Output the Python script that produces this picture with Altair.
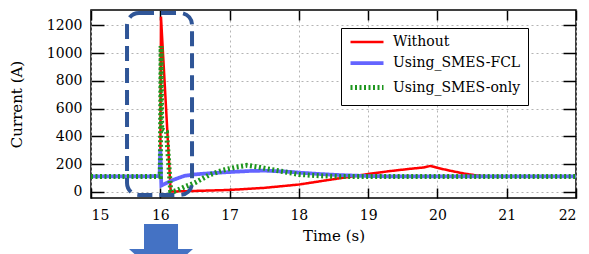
import altair as alt
import pandas as pd

series_names = ["Without", "Using_SMES-FCL", "Using_SMES-only"]
series_colors = ["#ff0000", "#6464ff", "#1e961e"]

t_without = [15.0, 16.0, 16.01, 16.15, 16.2, 16.5, 17.0, 17.5, 18.0, 18.3, 18.6, 18.8,
             19.0, 19.3, 19.6, 19.8, 19.9, 19.95, 20.0, 20.2, 20.4, 20.6, 20.8, 21.0, 22.0]
i_without = [108, 108, 1262, 2, 2, 6, 13, 28, 52, 75, 98, 112,
             128, 148, 165, 175, 186, 180, 172, 150, 130, 115, 110, 108, 108]

t_fcl = [15.0, 15.99, 16.0, 16.015, 16.1, 16.2, 16.35, 16.5, 16.7, 17.0, 17.3, 17.5,
         17.8, 18.0, 18.3, 18.6, 19.0, 19.5, 22.0]
i_fcl = [110, 112, 310, 45, 65, 88, 115, 125, 133, 142, 150, 152,
         146, 138, 128, 120, 113, 110, 110]

t_only = [15.0, 16.0, 16.012, 16.02, 16.09, 16.15, 16.2, 16.25, 16.35, 16.5, 16.7, 16.9,
          17.1, 17.25, 17.4, 17.6, 17.8, 18.0, 18.3, 18.6, 22.0]
i_only = [110, 110, 1050, 450, 430, 5, 3, 12, 35, 65, 120, 155,
          178, 190, 180, 160, 143, 125, 115, 110, 110]

x_ticks = [15, 16, 17, 18, 19, 20, 21, 22]
y_ticks = [0, 200, 400, 600, 800, 1000, 1200]
x_domain = [15, 22]
y_domain = [-45, 1310]

# highlight box (data units) and block arrow below the axis
box_x = [15.52, 16.458]
box_y = [-23, 1288]
arrow_shaft_x = [15.765, 16.256]
arrow_shaft_y = [-232, -412.5]
arrow_head_x = [15.548, 16.01, 16.472]
arrow_head_y = [-412.5, -620, -412.5]

rows = []
for name, ts, vs in zip(series_names, [t_without, t_fcl, t_only], [i_without, i_fcl, i_only]):
    for k, (t, v) in enumerate(zip(ts, vs)):
        rows.append({"series": name, "t": t, "I": v, "order": k})
df = pd.DataFrame(rows)

FONT = "DejaVu Serif"
xs = alt.Scale(domain=x_domain, nice=False, zero=False)
ys = alt.Scale(domain=y_domain, nice=False, zero=False)

legend = alt.Legend(
    title=None, orient="none", legendX=250, legendY=18,
    fillColor="white", strokeColor="black", padding=7, cornerRadius=0,
    labelFont=FONT, labelFontSize=14, labelColor="black",
    symbolType="M-1,0H5.6", symbolSize=100, labelOffset=30, rowPadding=6,
)

lines = alt.Chart(df).mark_line().encode(
    x=alt.X("t:Q", scale=xs, axis=alt.Axis(
        values=x_ticks, format="d", title="Time (s)", orient="bottom",
        offset=-10, tickSize=10, domain=False, labelPadding=10, titlePadding=6,
        grid=True, gridDash=[2, 3], gridColor="#b4b4b4", gridWidth=1,
        labelFont=FONT, titleFont=FONT)),
    y=alt.Y("I:Q", scale=ys, axis=alt.Axis(
        values=y_ticks, format="d", title="Current (A)", orient="left",
        offset=-13, tickSize=13, domain=False, labelPadding=9, titlePadding=22,
        grid=True, gridDash=[2, 3], gridColor="#b4b4b4", gridWidth=1,
        labelFont=FONT, titleFont=FONT)),
    color=alt.Color("series:N", scale=alt.Scale(domain=series_names, range=series_colors), legend=legend),
    strokeWidth=alt.StrokeWidth("series:N", scale=alt.Scale(domain=series_names, range=[2.5, 5, 2]), legend=legend),
    strokeDash=alt.StrokeDash("series:N", scale=alt.Scale(domain=series_names, range=[[1, 0], [1, 0], [2, 2.5]]), legend=legend),
    order="order:Q",
)

box_df = pd.DataFrame({"x0": [box_x[0]], "x1": [box_x[1]], "y0": [box_y[0]], "y1": [box_y[1]]})
box = alt.Chart(box_df).mark_rect(
    fill=None, fillOpacity=0, stroke="#2f5597", strokeWidth=4, strokeDash=[15, 7], cornerRadius=12
).encode(
    x=alt.X("x0:Q", scale=xs, axis=alt.Axis(
        values=x_ticks, orient="top", labels=False, title=None, grid=False, domain=False,
        offset=-10, tickSize=10)),
    x2="x1:Q",
    y=alt.Y("y0:Q", scale=ys, axis=alt.Axis(
        values=y_ticks, orient="right", labels=False, title=None, grid=False, domain=False,
        offset=-13, tickSize=13)),
    y2="y1:Q",
)

shaft_df = pd.DataFrame({"x0": [arrow_shaft_x[0]], "x1": [arrow_shaft_x[1]],
                         "y0": [arrow_shaft_y[0]], "y1": [arrow_shaft_y[1]]})
shaft = alt.Chart(shaft_df).mark_rect(color="#4472c4").encode(
    x=alt.X("x0:Q", scale=xs, axis=None), x2="x1:Q",
    y=alt.Y("y0:Q", scale=ys, axis=None), y2="y1:Q",
)
head_df = pd.DataFrame({"hx": arrow_head_x, "hy": arrow_head_y, "hy2": [arrow_head_y[0]] * 3})
head = alt.Chart(head_df).mark_area(color="#4472c4", opacity=1).encode(
    x=alt.X("hx:Q", scale=xs, axis=None),
    y=alt.Y("hy:Q", scale=ys, axis=None), y2="hy2:Q",
)

chart = alt.layer(lines, box, shaft, head).resolve_axis(
    x="independent", y="independent"
).properties(
    width=485, height=188, autosize="none",
    padding={"left": 83, "top": 2, "right": 5, "bottom": 56},
).configure(
    font=FONT
).configure_view(
    stroke="black", strokeWidth=1.5
).configure_axis(
    labelFontSize=14, labelColor="black",
    titleFontSize=15, titleColor="black", titleFontWeight="normal",
    tickColor="black", tickWidth=1.5,
).configure_legend(
    labelFont=FONT
)

chart.save("out.html", embed_options={"renderer": "svg", "actions": False})
